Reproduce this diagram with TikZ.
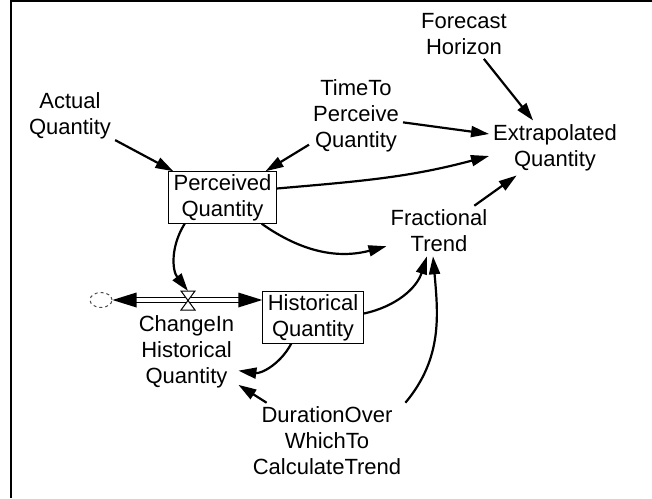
\documentclass[tikz,border=0pt]{standalone}
\usepackage{fontspec}
\setmainfont{Liberation Sans}
\usetikzlibrary{arrows.meta,shapes.geometric}
\begin{document}
\begin{tikzpicture}[x=1pt,y=-1pt,
  txt/.style={align=center,inner sep=4pt,font=\fontsize{22}{26}\selectfont},
  stock/.style={draw,line width=1pt,align=center,inner xsep=5pt,inner ysep=2.5pt,font=\fontsize{22}{26}\selectfont},
  inf/.style={line width=2.2pt,-{Triangle[length=18pt,width=11pt]}},
  pipeline/.style={line width=1pt},
  pipehead/.style={fill=black}]
\useasboundingbox (0,0) rectangle (652,498);
\draw[line width=2pt] (11,0) -- (11,498);
\draw[line width=1.5pt] (10,1) -- (652,1);

\node[txt] (forecast) at (464,34) {Forecast\\Horizon};
\node[txt] (actual) at (70,116) {Actual\\Quantity};
\node[txt] (timeto) at (356,116) {TimeTo\\Perceive\\Quantity};
\node[txt] (extra) at (555,148) {Extrapolated\\Quantity};
\node[stock] (perc) at (222.5,197.5) {Perceived\\Quantity};
\node[txt] (frac) at (439,231) {Fractional\\Trend};
\node[ellipse,draw,dashed,line width=1pt,minimum width=22pt,minimum height=15pt,inner sep=0pt,draw=black!70] (cloud) at (101,300) {};
\coordinate (valve) at (188,300);
\node[stock] (hist) at (313,317.5) {Historical\\Quantity};
\node[txt] (change) at (186.5,352) {ChangeIn\\Historical\\Quantity};
\node[txt] (dur) at (327,441) {DurationOver\\WhichTo\\CalculateTrend};

% flow pipe
\coordinate (cloudout) at (cloud.east);
\coordinate (histin) at (hist.west |- valve);
\draw[pipeline] ([shift={(20,-2.5)}]cloudout) -- ([shift={(-20,-2.5)}]histin);
\draw[pipeline] ([shift={(20,2.5)}]cloudout) -- ([shift={(-20,2.5)}]histin);
\fill[pipehead] (cloudout) -- ([shift={(24,-7.5)}]cloudout) -- ([shift={(24,7.5)}]cloudout) -- cycle;
\fill[pipehead] (histin) -- ([shift={(-24,-7.5)}]histin) -- ([shift={(-24,7.5)}]histin) -- cycle;
\draw[fill=white,line width=1pt] ([shift={(-7,-9)}]valve) -- ([shift={(7,-9)}]valve) -- ([shift={(-7,10)}]valve) -- ([shift={(7,10)}]valve) -- cycle;
\coordinate (valvetop) at ([yshift=9pt]valve);

\draw[inf] (actual) -- (perc);
\draw[inf] (timeto) -- ([yshift=14pt]extra.west);
\draw[inf] (timeto) -- (perc);
\draw[inf] (forecast) -- (extra);
\draw[inf] ([yshift=9pt]perc.east) to[out=5,in=195] ([yshift=-8pt]extra.west);
\draw[inf] (perc) to[bend right=25] (frac);
\draw[inf] (hist) to[bend right=30] (frac);
\draw[inf] (frac) -- (extra);
\draw[inf] (perc) to[bend right=35] (valvetop);
\draw[inf] (hist) to[bend left=35] (change);
\draw[inf] (dur) -- (change);
\draw[inf] (dur.north east) to[out=50,in=-85] ([xshift=-6pt]frac.south);
\end{tikzpicture}
\end{document}
